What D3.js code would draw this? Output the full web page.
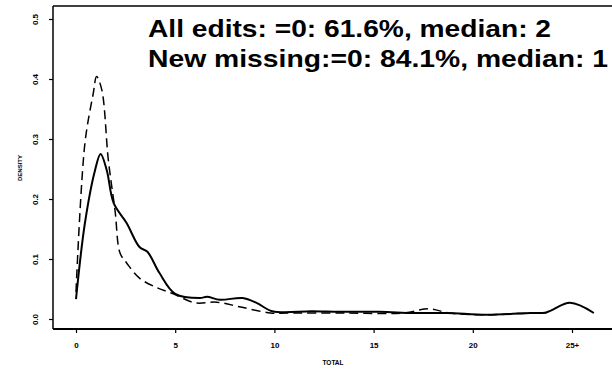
<!DOCTYPE html>
<html lang="en">
    <head>
        <meta charset="utf-8">
        <script type="text/javascript" src="https://cdn.jsdelivr.net/npm/d3@7/dist/d3.min.js"></script>
        <style type="text/css">
        body{
          margin: 0;
          background: #fff;
          font-family: "Liberation Sans", Arial, sans-serif;
        }
        </style>
    </head>
    <body>

        <script type="text/javascript">
        // Density curves
        var allEditsX = [0, 0.45, 0.96, 1.24, 1.55, 1.9, 2.55, 3.2, 3.6, 4.2, 5.0, 6.25, 6.6, 7.26, 8.4, 9.1, 9.9, 11.9, 13.3, 15.3, 17.0, 18.7, 20.7, 22.9, 23.7, 24.9, 26.1];
        var allEditsY = [0.033, 0.16, 0.248, 0.275, 0.248, 0.193, 0.16, 0.12, 0.112, 0.077, 0.042, 0.035, 0.037, 0.032, 0.035, 0.027, 0.013, 0.013, 0.012, 0.012, 0.01, 0.01, 0.007, 0.01, 0.011, 0.027, 0.01];

        var newMissingX = [0, 0.45, 0.87, 1.04, 1.3, 1.63, 1.97, 2.22, 2.56, 3.2, 4.1, 4.9, 6.0, 7.1, 8.3, 9.8, 10.6, 13.6, 16.5, 17.8, 18.8, 20.7, 22.9, 23.7];
        var newMissingY = [0.045, 0.293, 0.376, 0.404, 0.382, 0.265, 0.18, 0.11, 0.093, 0.068, 0.052, 0.042, 0.027, 0.028, 0.02, 0.01, 0.01, 0.01, 0.01, 0.017, 0.01, 0.007, 0.01, 0.01];

        var xTicks = [0, 5, 10, 15, 20, 25];
        var xTickLabels = ["0", "5", "10", "15", "20", "25+"];
        var yTicks = [0, 0.1, 0.2, 0.3, 0.4, 0.5];
        var notes = ["All edits: =0: 61.6%, median: 2", "New missing:=0: 84.1%, median: 1"];

        var w = 612;
        var h = 370;

        var xScale = d3.scaleLinear()
                       .domain([0, 25])
                       .range([76, 572]);

        var yScale = d3.scaleLinear()
                       .domain([0, 0.5])
                       .range([319, 19]);

        var svg = d3.select("body")
          .append("svg")
          .attr("width", w)
          .attr("height", h);

        // frame: top line, left line, bottom line
        svg.append("line").attr("x1", 53).attr("x2", w).attr("y1", 6).attr("y2", 6)
          .attr("stroke", "#000").attr("stroke-width", 1.5);
        svg.append("line").attr("x1", 53).attr("x2", 53).attr("y1", 6).attr("y2", 329)
          .attr("stroke", "#000").attr("stroke-width", 1.5);
        svg.append("line").attr("x1", 53).attr("x2", w).attr("y1", 329).attr("y2", 329)
          .attr("stroke", "#000").attr("stroke-width", 1.8);

        // y axis
        var yAxis = svg.append("g")
          .attr("transform", "translate(53,0)")
          .call(d3.axisLeft(yScale).tickValues(yTicks).tickSize(4).tickFormat(d3.format(".1f")));
        yAxis.select(".domain").remove();
        yAxis.selectAll("line").attr("stroke-width", 1.2);
        yAxis.selectAll("text")
          .attr("x", 0).attr("dy", 0)
          .attr("transform", "translate(-15,0) rotate(-90)")
          .style("text-anchor", "middle")
          .style("font-size", "8px")
          .style("font-weight", "bold")
          .attr("fill", "#000");

        // x axis
        var xAxis = svg.append("g")
          .attr("transform", "translate(0,329)")
          .call(d3.axisBottom(xScale).tickValues(xTicks).tickSize(4)
            .tickFormat(function(d, i) { return xTickLabels[i]; }));
        xAxis.select(".domain").remove();
        xAxis.selectAll("line").attr("stroke-width", 1.2);
        xAxis.selectAll("text")
          .attr("y", 19)
          .attr("dy", 0)
          .style("font-size", "8px")
          .style("font-weight", "bold")
          .attr("fill", "#000");

        // axis titles
        svg.append("text")
          .attr("transform", "translate(22,168) rotate(-90)")
          .style("text-anchor", "middle")
          .style("font-size", "6px")
          .style("font-weight", "bold")
          .text("DENSITY");

        svg.append("text")
          .attr("x", 333)
          .attr("y", 365)
          .style("text-anchor", "middle")
          .style("font-size", "6.5px")
          .style("font-weight", "bold")
          .text("TOTAL");

        // curves
        var line = d3.line()
          .x(function(d) { return xScale(d[0]); })
          .y(function(d) { return yScale(d[1]); })
          .curve(d3.curveCatmullRom);

        svg.append("path")
          .datum(newMissingX.map(function(d, i) { return [d, newMissingY[i]]; }))
          .attr("d", line)
          .attr("fill", "none")
          .attr("stroke", "#000")
          .attr("stroke-width", 1.5)
          .attr("stroke-dasharray", "9,5");

        svg.append("path")
          .datum(allEditsX.map(function(d, i) { return [d, allEditsY[i]]; }))
          .attr("d", line)
          .attr("fill", "none")
          .attr("stroke", "#000")
          .attr("stroke-width", 2);

        // notes in the upper part
        var noteLen = [403, 460];
        svg.selectAll(".note")
          .data(notes)
          .enter()
          .append("text")
          .attr("class", "note")
          .attr("x", 148)
          .attr("y", function(d, i) { return 37 + i * 30; })
          .attr("textLength", function(d, i) { return noteLen[i]; })
          .attr("lengthAdjust", "spacingAndGlyphs")
          .style("font-size", "24px")
          .style("font-weight", "bold")
          .text(function(d) { return d; });
        </script>
    </body>
</html>
